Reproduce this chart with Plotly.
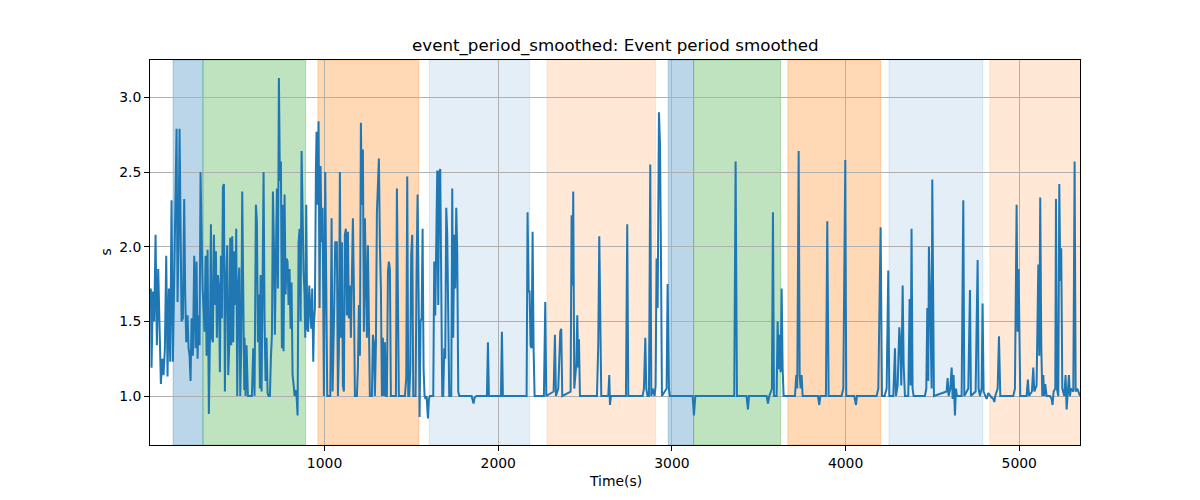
import plotly.graph_objects as go

# ---------------- data ----------------
time_s = [
    0, 3.9, 11.6, 19.3, 27, 34.6, 42.3, 50, 57.7, 65.3, 73, 80.7, 88.4, 96, 103.7, 111.4,
    119, 126.8, 134.5, 142, 148, 153.7, 159.4, 165.2, 171, 176.7, 184.4, 192, 197.8, 203.6,
    211.3, 217, 222.8, 228.5, 234.3, 242, 249.7, 257.3, 263, 268.9, 274.6, 280.4, 286, 291.9,
    297.7, 303.4, 309, 315, 320.7, 326.5, 330.3, 334, 340, 345.7, 351.4, 357, 363, 368.7,
    374.5, 380.2, 386, 391.7, 397.5, 403.3, 409, 414.8, 420.5, 426.3, 432, 439.7, 445.5,
    451.3, 457, 462.8, 468.5, 474.3, 480, 485.8, 491.6, 497.3, 503, 509, 514.6, 520.4, 526,
    532, 537.7,
    539.5, 545, 551, 558.7, 570, 581.7, 589.4, 597, 604.8, 610.5, 616.3, 622, 627.8, 631.6,
    637.4, 643, 649, 654.7, 660.4, 666, 672, 677.7, 685.4, 691, 697, 702.7, 708.4, 714, 720,
    725.7, 731.5, 737.2, 743, 748.8, 754.5, 760.3, 764, 769.9, 775.6, 781.4, 787, 793, 798.7,
    804.4, 810, 816, 821.7, 827.5, 833, 839, 844.8, 850.5, 856.3, 862, 867.8, 873.6, 879.3,
    885, 889, 894.7, 900.4, 906, 912, 917.7, 923.5, 929, 935, 938.8, 944.6, 950.4, 954, 960,
    965.7, 971.5, 977, 983, 988.8, 996.4, 1004, 1010, 1015.6, 1021.4, 1027, 1033, 1040.6,
    1046.4, 1056, 1061.7,
    1071, 1077, 1082.6, 1088.4, 1094, 1100, 1105.7, 1111.4, 1117, 1123, 1128.7, 1134.5, 1140,
    1146, 1151.8, 1157.5, 1163.3, 1169, 1174.8, 1180.6, 1186.3, 1192, 1197.8, 1203.6, 1209.4,
    1215, 1220.9, 1226.6, 1232.4, 1238, 1244, 1249.7, 1255.4, 1261, 1267, 1272.7, 1278.5, 1284,
    1290, 1295.8, 1301.5, 1307.3, 1313, 1318.8, 1324.6, 1330.3, 1336, 1341.8, 1347.6, 1353.4,
    1359, 1365, 1370.6, 1376.4, 1382, 1388, 1399.4, 1411, 1416.7, 1422.5, 1428, 1439.8, 1451.3,
    1462.8, 1470.5, 1476.2, 1482, 1487.8, 1493.5, 1499, 1505, 1510.8, 1516.6, 1524, 1530,
    1535.8, 1541.5, 1547.3, 1553, 1558.8, 1564.6, 1570.3, 1576, 1582, 1587.6, 1595.3, 1601, 1607,
    1626, 1631.7, 1637.4, 1641.3, 1645, 1649, 1654.7, 1660.5, 1666.2, 1672, 1677.7, 1683.5,
    1689.3, 1695, 1700.8, 1706.5, 1712.3, 1718, 1723.8, 1729.6, 1735.3, 1741, 1747, 1752.6,
    1758.4, 1764, 1770, 1775.7, 1818, 1846.7, 1858, 1864, 1875.5, 1935, 1940.8, 1946.5, 2015.7,
    2021.4, 2027, 2106, 2163.5, 2169,
    2175, 2180.7, 2186.4, 2192, 2198, 2203.7, 2209.5, 2263, 2271, 2276.7, 2319, 2326.6, 2332.4,
    2345.8, 2357.3, 2363, 2368.8, 2416.8, 2422.6, 2428.4, 2432, 2438, 2449.5, 2455.3, 2461,
    2465, 2470.6, 2568.5, 2576, 2582, 2587.7, 2593.5, 2633.8, 2639.5, 2643.4, 2649,
    2735.5, 2743, 2749, 2831.5, 2839, 2847, 2852.6, 2860, 2868, 2875.6, 2881.4, 2889, 2900.6,
    2906.3, 2912, 2918, 2925.5, 2931.3, 2937, 2942.8, 2969.7, 2975.5, 2983, 2989, 3119.5, 3127,
    3134.8,
    3359, 3367, 3374.7, 3430, 3438, 3444, 3545.6, 3553, 3561, 3570.6, 3576, 3582, 3587.8, 3603,
    3609, 3614.7, 3620.5, 3626, 3632, 3637.8, 3643.5, 3708.8, 3716.5, 3722, 3730, 3735.7,
    3741.4, 3747, 3753,
    3841, 3848.8, 3854.5, 3887, 3894.8, 3902.5, 3977.4, 3987, 3998.5, 4004, 4050, 4060, 4065.7,
    4179, 4188.6, 4202, 4209.7, 4225, 4236.6, 4246, 4252, 4275, 4284.6, 4290, 4300, 4309.6,
    4315, 4321, 4328.8, 4334.5, 4342,
    4361, 4369, 4374.6, 4380, 4386, 4392, 4457, 4465, 4470.6, 4476.4, 4480, 4486, 4492, 4495.6,
    4499.4, 4505, 4509, 4582, 4587.8, 4593.5, 4603, 4611, 4616.6, 4622, 4630, 4635.8, 4641.5,
    4668.4, 4678, 4683.8, 4706.8, 4716.4, 4722, 4749, 4760.6, 4766, 4774, 4783.6, 4789, 4795,
    4803, 4812, 4822, 4833.5, 4841, 4851, 4856.6, 4862, 4875.8, 4883.4, 4891,
    4965.8, 4975.4, 4985, 4990.8, 4996.5, 5000.4, 5006, 5042.6, 5050, 5056, 5073, 5081, 5086.8,
    5100, 5110, 5115.6, 5121, 5127, 5133, 5138.6, 5144, 5150, 5157.8, 5177, 5186.6, 5192, 5198,
    5207.7, 5211.6, 5217, 5225, 5230.8, 5236.5, 5242, 5248, 5259.6, 5267, 5273, 5278.8, 5286.4,
    5292, 5298, 5311.4, 5319, 5325, 5334.4, 5350,
]

period_s = [
    1.72, 1.19, 1.70, 1.50, 2.08, 1.34, 1.85, 1.32, 1.08, 1.25, 1.14, 1.32, 1.94, 1.13, 1.72, 1.23,
    2.31, 1.23, 1.83, 2.33, 2.79, 1.63, 2.03, 2.79, 2.08, 1.50, 1.52, 2.32, 1.68, 1.36,
    1.54, 1.32, 1.27, 1.10, 1.52, 1.27, 1.94, 1.32, 1.90, 1.25, 1.54, 1.34, 2.50, 1.97,
    1.72, 1.59, 1.43, 1.94, 1.27, 1.98, 1.00, 0.88, 1.39, 2.15, 1.39, 1.36, 2.08, 1.61,
    1.97, 1.39, 1.81, 1.72, 1.16, 1.94, 1.52, 2.40, 2.42, 1.03, 1.72, 2.01, 1.14,
    1.34, 2.06, 1.34, 2.07, 1.36, 1.97, 1.61, 2.12, 1.00, 1.72, 1.86, 1.00, 1.34, 2.37,
    1.54, 1.04,
    1.39, 1.00, 1.34, 1.00, 1.00, 1.00, 1.32, 1.00, 2.28, 2.17, 1.36, 1.68, 1.05, 1.81,
    1.03, 1.72, 2.50, 1.50, 1.10, 1.39, 1.02, 1.00, 1.00, 1.25, 1.41, 2.37, 2.03, 1.41, 2.12,
    2.39, 1.72, 3.13, 2.44, 2.57, 1.32, 2.28, 1.30, 2.35, 1.68, 1.92, 1.90, 1.61, 1.85,
    1.45, 1.76, 1.14, 1.08, 1.00, 1.04, 1.00, 0.87, 2.03, 2.12, 1.50, 2.64, 2.12, 1.83,
    1.68, 1.39, 2.28, 1.45, 1.43, 1.74, 1.59, 1.45, 1.72, 1.23, 1.48, 1.59, 2.52, 2.77, 2.28,
    2.84, 1.59, 2.54, 2.03, 2.26, 1.00, 2.50, 1.72, 1.00, 1.00, 1.00, 1.00, 2.19,
    1.03, 1.61, 2.03,
    2.03, 1.00, 1.30, 2.50, 1.39, 2.03, 1.07, 1.03, 2.08, 2.12, 1.54, 2.10, 1.52,
    1.74, 1.39, 1.85, 2.19, 1.72, 1.00, 1.00, 1.00, 1.18, 1.61, 1.27, 2.83,
    2.28, 2.65, 1.43, 2.19, 1.81, 1.39, 2.01, 1.39, 1.00, 1.00, 1.00, 1.41, 1.36,
    1.00, 1.34, 2.23, 2.52, 2.59, 2.01, 1.72, 1.00, 1.39, 1.00, 1.36, 1.00,
    1.00, 1.83, 1.90, 1.85, 1.00, 1.00, 1.00, 1.00, 2.39, 1.63, 1.00, 1.00, 1.00,
    1.00, 1.12, 2.47, 1.00, 1.00, 1.18, 1.94, 2.08, 1.00, 1.00, 1.00, 1.83,
    2.35, 1.72, 0.86, 1.50, 1.52, 2.12, 1.18, 1.00, 0.98, 1.00, 0.85, 0.98, 1.00,
    1.00, 1.90, 1.54, 1.83, 2.26, 2.51, 1.61, 2.50, 2.52, 1.59, 1.00, 1.00,
    1.32, 1.25, 2.26, 2.08, 1.27, 1.00, 1.00, 1.00, 2.39, 1.39, 2.08, 1.72,
    2.26, 1.97, 1.03, 1.00, 1.00, 1.00, 0.95, 0.99, 1.00, 1.00, 1.36, 1.00, 1.00,
    1.43, 1.00, 1.00, 1.00, 2.23,
    1.70, 1.70, 1.34, 1.32, 2.10, 1.32, 1.00, 1.00, 1.63, 1.00, 1.03, 1.41, 1.00,
    1.05, 1.43, 1.45, 1.00, 1.03, 2.21, 1.74, 2.37, 1.05, 1.21, 1.54, 1.19,
    1.38, 1.00, 1.00, 1.34, 2.07, 1.27, 1.00, 1.00, 1.14, 0.94, 1.00,
    1.00, 2.15, 1.00, 1.00, 1.05, 1.39, 1.05, 1.00, 1.00, 2.55, 1.00, 1.05, 1.00,
    1.07, 1.92, 1.59, 2.90, 2.70, 1.97, 1.00, 1.05, 1.75, 1.05, 1.00, 1.00, 0.87,
    1.00,
    1.00, 2.57, 1.00, 1.00, 0.91, 1.00, 1.00, 0.95, 1.00, 1.03, 1.05, 2.23, 1.00, 1.00,
    1.50, 1.18, 1.41, 1.16, 1.72, 1.18, 1.00, 1.00, 1.14, 1.05, 2.64, 1.14,
    1.05, 1.14, 1.00,
    1.00, 0.94, 1.00, 1.00, 2.17, 1.00, 1.00, 1.05, 2.58, 1.00, 1.00, 0.94, 1.00,
    1.00, 1.05, 2.13, 1.00, 1.00, 1.05, 1.84, 1.00, 1.00, 1.32, 1.00, 1.07, 1.46,
    1.36, 1.07, 1.74, 1.21, 1.00,
    1.00, 1.65, 1.07, 2.12, 1.05, 1.00, 1.00, 1.05, 1.59, 1.10, 2.00, 1.72, 1.20, 1.05,
    2.45, 1.74, 1.00, 1.03, 1.12, 1.00, 1.05, 1.19, 0.98, 1.14, 0.87, 1.05, 1.00,
    1.00, 2.31, 1.00, 1.05, 1.71, 1.00, 1.03, 1.91, 1.05, 1.00, 1.05, 1.62, 1.03,
    1.00, 0.98, 1.02, 1.00, 0.99, 0.98, 0.96, 1.00, 1.05, 1.40, 1.00,
    1.00, 1.05, 2.28, 1.43, 1.85, 1.27, 1.00, 1.00, 1.11, 1.00, 1.03, 1.19, 1.03,
    1.07, 1.88, 1.27, 2.33, 1.34, 1.00, 1.14, 1.00, 1.08, 1.00, 1.00, 0.98, 0.94, 1.03,
    1.05, 2.32, 1.05, 1.00, 2.42, 1.77, 1.99, 1.05, 1.00, 1.14, 0.91, 1.03, 1.14,
    1.00, 1.05, 1.03, 2.57, 1.03, 1.05, 1.00,
]

region_start = [128, 300, 962, 1603, 2281, 2979, 3125, 3668, 4250, 4831]
region_end = [300, 891, 1543, 2181, 2906, 3125, 3626, 4202, 4791, 5360]
region_fill = [
    "rgba(31,119,180,0.3)", "rgba(44,160,44,0.3)", "rgba(255,127,14,0.3)",
    "rgba(31,119,180,0.12)", "rgba(255,127,14,0.17)",
    "rgba(31,119,180,0.3)", "rgba(44,160,44,0.3)", "rgba(255,127,14,0.3)",
    "rgba(31,119,180,0.12)", "rgba(255,127,14,0.17)",
]

x_ticks = [1000, 2000, 3000, 4000, 5000]
y_ticks = [1.0, 1.5, 2.0, 2.5, 3.0]
y_tick_text = ["1.0", "1.5", "2.0", "2.5", "3.0"]

title_text = "event_period_smoothed: Event period smoothed"
x_label = "Time(s)"
y_label = "s"

# ---------------- figure ----------------
FONT = "DejaVu Sans"
fig = go.Figure()
fig.add_trace(go.Scatter(
    x=time_s, y=period_s, mode="lines",
    line=dict(color="#1f77b4", width=2),
    showlegend=False, hoverinfo="skip",
))

for x0, x1, fc in zip(region_start, region_end, region_fill):
    fig.add_shape(type="rect", xref="x", yref="paper", x0=x0, x1=x1, y0=0, y1=1,
                  fillcolor=fc, line=dict(color=fc, width=1), layer="below")

axis_common = dict(
    showline=True, linecolor="black", linewidth=1, mirror=True,
    ticks="outside", ticklen=5, tickwidth=1, tickcolor="black",
    showgrid=True, gridcolor="#b0b0b0", gridwidth=1, zeroline=False,
    tickfont=dict(family=FONT, size=13.9, color="black"),
)

# the page body has an 8px margin: figure starts at (8, 8) in the window
fig.update_layout(
    width=1192, height=492,
    margin=dict(l=142, r=120, t=52, b=55),
    paper_bgcolor="white", plot_bgcolor="white",
    xaxis=dict(range=[-5, 5350], tickvals=x_ticks, **axis_common),
    yaxis=dict(range=[0.672, 3.25], tickvals=y_ticks, ticktext=y_tick_text, **axis_common),
    annotations=[
        dict(text=title_text, xref="paper", yref="paper", x=0.5, y=1 + 14 / 385,
             xanchor="center", yanchor="middle", showarrow=False,
             font=dict(family=FONT, size=16.7, color="black")),
        dict(text=x_label, xref="paper", yref="paper", x=0.5, y=-36 / 385,
             xanchor="center", yanchor="middle", showarrow=False,
             font=dict(family=FONT, size=13.9, color="black")),
        dict(text=y_label, xref="paper", yref="paper", x=-45 / 930, y=0.5,
             xanchor="center", yanchor="middle", showarrow=False, textangle=-90,
             font=dict(family=FONT, size=13.9, color="black")),
    ],
)

fig.write_html("out.html")
